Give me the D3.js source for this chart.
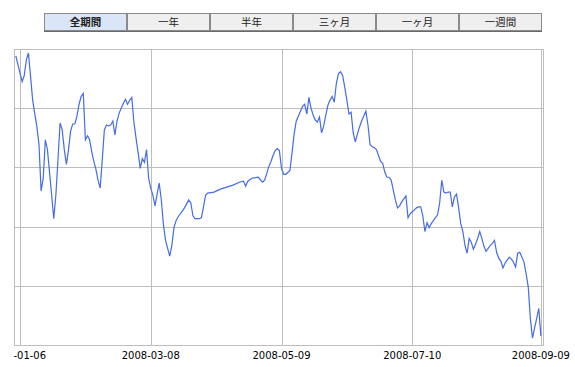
<!DOCTYPE html>
<html>
<head>
<meta charset="utf-8">
<script src="https://cdn.jsdelivr.net/npm/d3@7"></script>
<style>
  html, body { margin: 0; padding: 0; background: #fff; }
  svg { display: block; }
</style>
</head>
<body>
<div id="chart"></div>
<script>
// period buttons
const buttons = ["全期間", "一年", "半年", "三ヶ月", "一ヶ月", "一週間"];
const selected = "全期間";

// x axis tick labels
const xTicks = ["2008-01-06", "2008-03-08", "2008-05-09", "2008-07-10", "2008-09-09"];
// y grid (no labels shown)
const yTicks = [0, 60, 120, 180, 240, 300];

// price series
const dates = [
  "2008-01-04","2008-01-07","2008-01-08","2008-01-09","2008-01-10","2008-01-11","2008-01-12","2008-01-14",
  "2008-01-15","2008-01-16","2008-01-17","2008-01-18","2008-01-19","2008-01-20","2008-01-21","2008-01-22",
  "2008-01-23","2008-01-24","2008-01-25","2008-01-26","2008-01-27","2008-01-28","2008-01-29","2008-01-30",
  "2008-01-31","2008-02-01","2008-02-02","2008-02-03","2008-02-04","2008-02-05","2008-02-06","2008-02-07",
  "2008-02-08","2008-02-09","2008-02-10","2008-02-11","2008-02-12","2008-02-13","2008-02-14","2008-02-15",
  "2008-02-16","2008-02-17","2008-02-18","2008-02-19","2008-02-20","2008-02-21","2008-02-22","2008-02-23",
  "2008-02-24","2008-02-25","2008-02-26","2008-02-27","2008-02-28","2008-02-29","2008-03-01","2008-03-02",
  "2008-03-03","2008-03-04","2008-03-05","2008-03-06","2008-03-07","2008-03-08","2008-03-09","2008-03-10",
  "2008-03-11","2008-03-12","2008-03-13","2008-03-14","2008-03-15","2008-03-16","2008-03-17","2008-03-18",
  "2008-03-19","2008-03-20","2008-03-21","2008-03-22","2008-03-23","2008-03-24","2008-03-25","2008-03-26",
  "2008-03-27","2008-03-28","2008-03-29","2008-03-31","2008-04-01","2008-04-02","2008-04-03","2008-04-04",
  "2008-04-07","2008-04-10","2008-04-13","2008-04-16","2008-04-19","2008-04-21","2008-04-22","2008-04-23",
  "2008-04-25","2008-04-28","2008-04-30","2008-05-01","2008-05-02","2008-05-03","2008-05-04","2008-05-05",
  "2008-05-06","2008-05-07","2008-05-08","2008-05-09","2008-05-10","2008-05-11","2008-05-13","2008-05-14",
  "2008-05-15","2008-05-16","2008-05-17","2008-05-18","2008-05-19","2008-05-20","2008-05-21","2008-05-22",
  "2008-05-23","2008-05-24","2008-05-25","2008-05-26","2008-05-27","2008-05-28","2008-05-29","2008-05-30",
  "2008-05-31","2008-06-01","2008-06-02","2008-06-03","2008-06-04","2008-06-05","2008-06-06","2008-06-07",
  "2008-06-08","2008-06-09","2008-06-10","2008-06-11","2008-06-12","2008-06-13","2008-06-14","2008-06-15",
  "2008-06-16","2008-06-17","2008-06-18","2008-06-19","2008-06-20","2008-06-21","2008-06-22","2008-06-23",
  "2008-06-24","2008-06-25","2008-06-26","2008-06-27","2008-06-28","2008-06-29","2008-06-30","2008-07-01",
  "2008-07-02","2008-07-03","2008-07-04","2008-07-05","2008-07-06","2008-07-07","2008-07-08","2008-07-09",
  "2008-07-10","2008-07-11","2008-07-12","2008-07-13","2008-07-14","2008-07-15","2008-07-16","2008-07-17",
  "2008-07-18","2008-07-19","2008-07-20","2008-07-21","2008-07-22","2008-07-23","2008-07-24","2008-07-25",
  "2008-07-26","2008-07-27","2008-07-28","2008-07-29","2008-07-30","2008-07-31","2008-08-01","2008-08-02",
  "2008-08-03","2008-08-04","2008-08-05","2008-08-06","2008-08-07","2008-08-08","2008-08-09","2008-08-10",
  "2008-08-11","2008-08-12","2008-08-13","2008-08-14","2008-08-15","2008-08-16","2008-08-17","2008-08-18",
  "2008-08-19","2008-08-20","2008-08-21","2008-08-22","2008-08-23","2008-08-24","2008-08-25","2008-08-26",
  "2008-08-27","2008-08-28","2008-08-29","2008-08-30","2008-08-31","2008-09-01","2008-09-02","2008-09-03",
  "2008-09-04","2008-09-05","2008-09-06","2008-09-07","2008-09-08","2008-09-09"
];
const values = [
  293,267,273,289,296,272,248,221,
  203,156,169,208,198,175,152,128,
  152,188,225,218,198,183,198,217,
  224,224,232,244,252,255,208,212,
  208,196,186,178,167,159,188,218,
  223,222,223,227,213,227,235,240,
  245,249,244,248,251,226,210,195,
  179,189,185,198,169,159,152,141,
  153,164,147,122,106,98,90,101,
  119,126,130,133,136,139,143,147,
  144,131,128,128,129,140,152,154,
  155,158,160,162,165,166,161,166,
  169,170,165,167,174,181,186,192,
  197,199,197,179,173,173,177,195,
  214,227,232,237,242,244,234,251,
  240,233,228,226,231,215,222,233,
  243,248,252,246,265,275,277,273,
  261,248,234,236,215,206,214,221,
  227,232,237,223,203,201,200,198,
  192,186,184,175,170,170,167,157,
  147,139,141,145,148,151,129,133,
  135,137,139,140,140,131,115,124,
  119,123,126,129,132,144,167,155,
  154,155,155,140,150,153,139,123,
  115,101,93,108,104,97,102,108,
  115,108,100,95,98,101,103,106,
  94,88,85,78,83,86,89,87,
  84,79,93,94,89,84,72,59,
  27,7,17,27,37,9
];

const width = 575;
const height = 367;
const plot = { left: 14, right: 543, top: 49, bottom: 345 };

const parse = d3.timeParse("%Y-%m-%d");
const data = dates.map((d, i) => ({ date: parse(d), value: values[i] }));

const svg = d3.select("#chart")
    .append("svg")
    .attr("width", width)
    .attr("height", height);

// buttons
const bx = d3.scaleBand().domain(buttons).range([44, 542]);
const btn = svg.append("g").selectAll("g")
    .data(buttons)
    .join("g")
    .attr("transform", d => `translate(${bx(d)},13)`);

btn.append("rect")
    .attr("x", 0.5)
    .attr("y", 0.5)
    .attr("width", bx.bandwidth() - 1)
    .attr("height", 17)
    .attr("fill", d => d === selected ? "#dae5f8" : "#efefef")
    .attr("stroke", "#8a8a8a")
    .attr("shape-rendering", "crispEdges");

btn.append("line")
    .attr("x1", 0)
    .attr("x2", bx.bandwidth())
    .attr("y1", 18)
    .attr("y2", 18)
    .attr("stroke", "#6a6a6a")
    .attr("shape-rendering", "crispEdges");

btn.append("text")
    .attr("x", bx.bandwidth() / 2)
    .attr("y", 13)
    .attr("text-anchor", "middle")
    .attr("font-family", "'Noto Sans CJK JP', sans-serif")
    .attr("font-size", 10.5)
    .attr("font-weight", d => d === selected ? "bold" : "normal")
    .attr("fill", "#222")
    .text(d => d);

// scales
const x = d3.scaleTime()
    .domain([new Date(2008, 0, 3, 3, 30), new Date(2008, 8, 10)])
    .range([plot.left, plot.right]);

const y = d3.scaleLinear()
    .domain([yTicks[0], yTicks[yTicks.length - 1]])
    .range([plot.bottom, plot.top]);

const grid = svg.append("g")
    .attr("stroke", "#bdbdbd")
    .attr("stroke-width", 1)
    .attr("shape-rendering", "crispEdges");

// horizontal grid
grid.selectAll(".hg")
    .data(yTicks)
    .join("line")
    .attr("x1", plot.left)
    .attr("x2", plot.right)
    .attr("y1", d => Math.round(y(d)) + 0.5)
    .attr("y2", d => Math.round(y(d)) + 0.5);

// vertical grid at tick dates
grid.selectAll(".vg")
    .data(xTicks)
    .join("line")
    .attr("x1", d => Math.round(x(parse(d))) + 0.5)
    .attr("x2", d => Math.round(x(parse(d))) + 0.5)
    .attr("y1", plot.top)
    .attr("y2", plot.bottom);

// frame sides
grid.append("line")
    .attr("x1", plot.left + 0.5).attr("x2", plot.left + 0.5)
    .attr("y1", plot.top).attr("y2", plot.bottom + 1);
grid.append("line")
    .attr("x1", plot.right + 0.5).attr("x2", plot.right + 0.5)
    .attr("y1", plot.top).attr("y2", plot.bottom + 1);

// price line
const line = d3.line()
    .x(d => x(d.date))
    .y(d => y(d.value));

svg.append("path")
    .datum(data)
    .attr("d", line)
    .attr("fill", "none")
    .attr("stroke", "#456ce4")
    .attr("stroke-width", 1.2);

// x labels, the first one is cut by the chart's left edge as in the original
svg.append("clipPath")
    .attr("id", "lab-clip")
    .append("rect")
    .attr("x", 13.5)
    .attr("y", plot.bottom)
    .attr("width", width - 13.5)
    .attr("height", height - plot.bottom);

svg.append("g")
    .attr("clip-path", "url(#lab-clip)")
    .selectAll("text")
    .data(xTicks)
    .join("text")
    .attr("x", d => x(parse(d)) - 3 * (d === xTicks[0]))
    .attr("y", 359)
    .attr("text-anchor", "middle")
    .attr("font-family", "'DejaVu Sans', Verdana, sans-serif")
    .attr("font-size", 10)
    .attr("fill", "#000")
    .text(d => d);
</script>
</body>
</html>
